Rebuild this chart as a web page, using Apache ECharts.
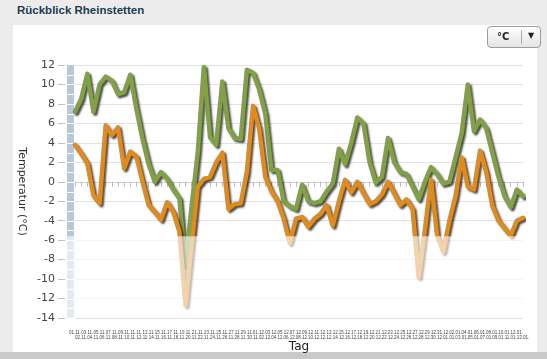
<!DOCTYPE html>
<html><head><meta charset="utf-8">
<script src="https://cdn.jsdelivr.net/npm/echarts@6/dist/echarts.min.js"></script>
<style>
body{margin:0;width:547px;height:359px;background:#ececec;position:relative;overflow:hidden;font-family:"DejaVu Sans",sans-serif}
#title{position:absolute;left:17px;top:4px;font:bold 11.5px "Liberation Sans",Arial,sans-serif;color:#1d3b4f}
#panel{position:absolute;left:13px;top:25px;width:524px;height:327px;background:#fff}
#bottom{position:absolute;left:0;top:352px;width:547px;height:7px;background:#c9c9c9}
#chart{position:absolute;left:0;top:0;width:547px;height:359px}
#btn{position:absolute;left:487px;top:26px;width:52px;height:20px;border:1px solid #9c9c9c;border-radius:4px;background:linear-gradient(#ffffff,#e4e4e4);z-index:5;font:bold 10px "DejaVu Sans",sans-serif;color:#222}
#btn .u{position:absolute;left:9px;top:4px}
#btn .s{position:absolute;left:33px;top:3px;width:1px;height:14px;background:#aaa}
#btn .a{position:absolute;left:40px;top:4px;font-size:8px}
</style></head>
<body>
<div id="title">Rückblick Rheinstetten</div>
<div id="panel"></div>
<div id="bottom"></div>
<div id="btn"><span class="u">°C</span><span class="s"></span><span class="a">▼</span></div>
<div id="chart"></div>
<script>
const days = ["01.11.","02.11.","03.11.","04.11.","05.11.","06.11.","07.11.","08.11.","09.11.","10.11.",
"11.11.","12.11.","13.11.","14.11.","15.11.","16.11.","17.11.","18.11.","19.11.","20.11.",
"21.11.","22.11.","23.11.","24.11.","25.11.","26.11.","27.11.","28.11.","29.11.","30.11.",
"01.12.","02.12.","03.12.","04.12.","05.12.","06.12.","07.12.","08.12.","09.12.","10.12.",
"11.12.","12.12.","13.12.","14.12.","15.12.","16.12.","17.12.","18.12.","19.12.","20.12.",
"21.12.","22.12.","23.12.","24.12.","25.12.","26.12.","27.12.","28.12.","29.12.","30.12.",
"31.12.","01.01.","02.01.","03.01.","04.01.","05.01.","06.01.","07.01.","08.01.","09.01.",
"10.01.","11.01.","12.01.","13.01."];
const maxTemp = [7.2,8.5,11.1,7.2,10.0,10.8,10.4,9.0,9.2,11.0,
7.5,4.4,1.8,0.0,1.0,0.3,-0.8,-1.7,-8.6,-2.5,
3.0,11.8,4.6,3.8,10.3,5.5,4.5,4.4,11.5,11.2,
9.5,7.0,1.2,1.2,-2.0,-2.5,-2.8,-0.3,-2.0,-2.2,
-2.0,-1.0,-0.2,3.4,1.8,4.0,6.6,6.0,2.0,-0.1,
0.5,4.5,2.0,1.0,0.8,-0.5,-1.8,0.0,1.5,0.8,
-0.2,0.0,2.5,5.0,10.0,5.2,6.4,5.5,3.0,0.5,
-1.5,-2.6,-0.8,-1.5];
const minTemp = [3.8,2.9,1.9,-1.4,-2.2,5.8,4.8,5.6,1.4,3.1,
2.6,0.0,-2.4,-3.1,-3.9,-2.1,-3.1,-5.1,-12.7,-6.5,
-0.5,0.3,0.5,2.0,3.0,-2.8,-2.3,-2.2,1.0,7.8,
5.5,0.5,-1.0,-2.0,-3.8,-6.3,-3.8,-3.6,-4.6,-3.8,
-3.3,-2.4,-4.5,-2.0,0.2,-1.1,0.0,-1.2,-2.3,-2.0,
-1.3,0.0,-1.2,-2.4,-1.8,-2.8,-9.8,-5.0,0.2,-5.5,
-7.2,-4.0,-1.5,2.5,-0.5,-0.8,3.2,1.0,-2.5,-4.0,
-4.8,-5.5,-4.0,-3.7];
const yMin = -14, yMax = 12, yStep = 2;

const chart = echarts.init(document.getElementById('chart'), null, {renderer:'canvas'});
const gridColors = [];
for (let v = yMin; v <= yMax; v += yStep) gridColors.push(v === 0 ? '#9a9a9a' : '#e2e2e2');
const lineStyleFor = c => ({width:4.5, color:c, shadowColor:'rgba(20,20,20,0.75)', shadowBlur:2, shadowOffsetX:2, shadowOffsetY:2, join:'round', cap:'round'});
chart.setOption({
  animation:false,
  grid:{left:75, right:24, top:65, bottom:41, containLabel:false, outerBoundsMode:'none'},
  xAxis:{type:'category', data:days, boundaryGap:false,
    name:'Tag', nameLocation:'middle', nameGap:23, nameMoveOverlap:false,
    nameTextStyle:{fontFamily:'DejaVu Sans', fontSize:12, color:'#222'},
    axisLine:{lineStyle:{color:'#cfcfcf'}},
    axisTick:{interval:0, length:5, lineStyle:{color:'#bdbdbd'}},
    axisLabel:{interval:0, fontSize:4.5, lineHeight:5, color:'#444', margin:12,
      formatter:(v,i)=> i%2 ? '\n'+v : v},
    splitLine:{show:false}},
  yAxis:{type:'value', min:yMin, max:yMax, interval:yStep, offset:10,
    name:'Temperatur (°C)', nameLocation:'middle', nameGap:38, nameRotate:-90, nameMoveOverlap:false,
    nameTextStyle:{fontFamily:'DejaVu Sans', fontSize:11, color:'#333'},
    axisLine:{show:false},
    axisTick:{show:true, length:7, lineStyle:{color:'#c0c0c0'}},
    axisLabel:{fontFamily:'DejaVu Sans', fontSize:11, color:'#444', margin:10},
    splitLine:{lineStyle:{color:gridColors, width:1}}},
  series:[
    {type:'line', data:maxTemp, symbol:'none', lineStyle:lineStyleFor('#82a046'), z:3},
    {type:'line', data:minTemp, symbol:'none', lineStyle:lineStyleFor('#e08b1f'), z:4}
  ]
});
// decorative elements positioned through the axes
const px = (i,v) => chart.convertToPixel({xAxisIndex:0, yAxisIndex:0}, [i, v]);
const pTop = px(0, yMax), pBot = px(0, yMin), pRight = px(days.length-1, 0);
const barX = pTop[0]-8;
const els = [{type:'rect', shape:{x:barX, y:pTop[1], width:7, height:pBot[1]-pTop[1]}, style:{fill:'#b8c8d8'}, z:1}];
for (let v = yMin+1; v < yMax; v++) {
  const p = px(0, v);
  els.push({type:'line', shape:{x1:barX, y1:Math.round(p[1])+0.5, x2:barX+7, y2:Math.round(p[1])+0.5}, style:{stroke:'#ffffff', lineWidth:1}, z:2});
}
const fadeTop = px(0, -5.6);
els.push({type:'rect', shape:{x:barX, y:fadeTop[1], width:pRight[0]-barX+2, height:pBot[1]-fadeTop[1]}, style:{fill:'rgba(255,255,255,0.62)'}, z:100});
chart.setOption({graphic:els});
</script>
</body></html>
